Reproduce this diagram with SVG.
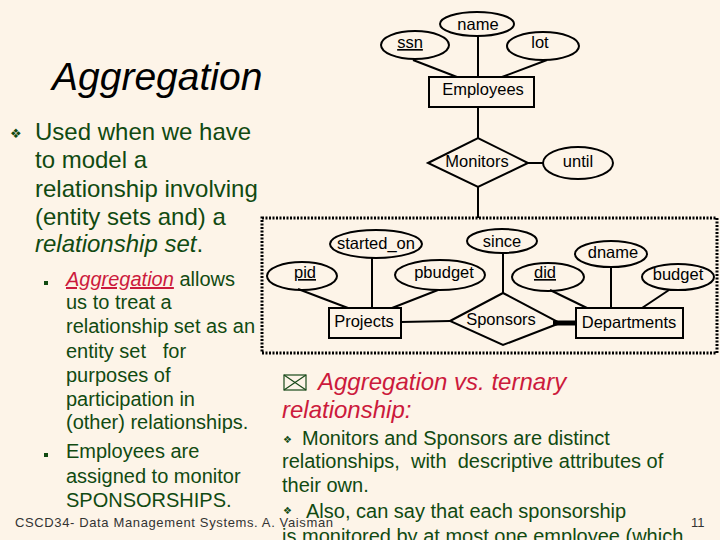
<svg xmlns="http://www.w3.org/2000/svg" width="720" height="540" viewBox="0 0 720 540">
<style>
.bg{fill:#fdf4e8}
.sh{fill:none;stroke:#000;stroke-width:2}
.ln{stroke:#000;stroke-width:2;fill:none}
.dl{font-family:"Liberation Sans",Arial,sans-serif;font-size:16.5px;fill:#000;text-anchor:middle}
.u{text-decoration:underline}
.g{font-family:"Liberation Sans",Arial,sans-serif;fill:#114a11}
.r{font-family:"Liberation Sans",Arial,sans-serif;fill:#cc1a3c;font-style:italic}
.b{font-family:"DejaVu Sans",sans-serif;fill:#114a11}
.ft{font-family:"Liberation Sans",Arial,sans-serif;font-size:13px;fill:#333}
</style>
<rect class="bg" x="0" y="0" width="720" height="540"/>

<text x="52" y="90" font-family="Liberation Sans, Arial, sans-serif" font-size="39" font-style="italic" fill="#000">Aggregation</text>

<g id="left-text">
<text class="b" x="10" y="138" font-size="13">❖</text>
<text class="g" font-size="24"><tspan x="35" y="140">Used when we have</tspan><tspan x="35" y="168">to model a</tspan><tspan x="35" y="197">relationship involving</tspan><tspan x="35" y="225">(entity sets and) a</tspan><tspan x="35" y="252" font-style="italic">relationship set</tspan><tspan>.</tspan></text>
<rect x="44" y="281" width="4" height="4" fill="#114a11"/>
<text class="g" font-size="20"><tspan x="66" y="286" class="r u">Aggregation</tspan><tspan> allows</tspan><tspan x="66" y="309">us to treat a</tspan><tspan x="66" y="333">relationship set as an</tspan><tspan x="66" y="358" xml:space="preserve">entity set   for</tspan><tspan x="66" y="382">purposes of</tspan><tspan x="66" y="406">participation in</tspan><tspan x="66" y="429">(other) relationships.</tspan></text>
<rect x="44" y="453" width="4" height="4" fill="#114a11"/>
<text class="g" font-size="20"><tspan x="66" y="458">Employees are</tspan><tspan x="66" y="483">assigned to monitor</tspan><tspan x="66" y="507">SPONSORSHIPS.</tspan></text>
</g>

<g id="right-text">
<g id="envelope" stroke="#1a4a1a" stroke-width="1.2" fill="none">
<rect x="284" y="375" width="22" height="15"/>
<path d="M284 375 L306 390 M306 375 L284 390"/>
</g>
<text class="r" font-size="24"><tspan x="318" y="390">Aggregation vs. ternary</tspan><tspan x="282" y="418">relationship</tspan><tspan>:</tspan></text>
<text class="b" x="283" y="443" font-size="10">❖</text>
<text class="g" font-size="20"><tspan x="302" y="445">Monitors and Sponsors are distinct</tspan><tspan x="282" y="468" xml:space="preserve">relationships,  with  descriptive attributes of</tspan><tspan x="282" y="492">their own.</tspan><tspan x="306" y="518">Also, can say that each sponsorship</tspan><tspan x="282" y="543">is monitored by at most one employee (which</tspan></text>
<text class="b" x="283" y="514" font-size="10">❖</text>
</g>

<g id="connectors">
<line class="ln" x1="478" y1="36" x2="478" y2="77"/>
<line class="ln" x1="413" y1="60" x2="457" y2="77"/>
<line class="ln" x1="547" y1="60" x2="502" y2="77"/>
<line class="ln" x1="478" y1="107" x2="478" y2="138"/>
<line class="ln" x1="528" y1="163" x2="543" y2="163"/>
<line class="ln" x1="478" y1="187" x2="478" y2="218"/>
<line class="ln" x1="298" y1="289" x2="348" y2="308"/>
<line class="ln" x1="372" y1="258" x2="372" y2="308"/>
<line class="ln" x1="438" y1="290" x2="392" y2="308"/>
<line class="ln" x1="503" y1="253" x2="503" y2="293"/>
<line class="ln" x1="550" y1="290" x2="587" y2="308"/>
<line class="ln" x1="611" y1="267" x2="611" y2="308"/>
<line class="ln" x1="669" y1="290" x2="642" y2="308"/>
<line class="ln" x1="401" y1="322" x2="450" y2="321"/>
<line x1="553" y1="323" x2="577" y2="323" stroke="#000" stroke-width="5"/>
</g>

<rect id="aggregate" x="262" y="218" width="455" height="135" fill="none" stroke="#000" stroke-width="3" stroke-dasharray="2 1.5"/>

<g id="ssn"><ellipse class="sh" cx="415" cy="45" rx="34" ry="14"/><text class="dl u" x="410" y="48">ssn</text></g>
<g id="name"><ellipse class="sh" cx="477" cy="24" rx="37" ry="12"/><text class="dl" x="478" y="30">name</text></g>
<g id="lot"><ellipse class="sh" cx="543" cy="46" rx="36" ry="14"/><text class="dl" x="540" y="48">lot</text></g>
<g id="employees"><rect class="sh" x="429" y="77" width="105" height="30"/><text class="dl" x="483" y="95">Employees</text></g>
<g id="monitors"><polygon class="sh" points="428,163 478,138 528,163 478,187"/><text class="dl" x="477" y="167">Monitors</text></g>
<g id="until"><ellipse class="sh" cx="578" cy="163" rx="35" ry="16"/><text class="dl" x="578" y="167">until</text></g>
<g id="started_on"><ellipse class="sh" cx="376" cy="244" rx="46" ry="14"/><text class="dl" x="376" y="249">started_on</text></g>
<g id="since"><ellipse class="sh" cx="502" cy="241" rx="35" ry="12"/><text class="dl" x="502" y="247">since</text></g>
<g id="pid"><ellipse class="sh" cx="302" cy="276" rx="35" ry="14"/><text class="dl u" x="305" y="278">pid</text></g>
<g id="pbudget"><ellipse class="sh" cx="440" cy="275" rx="45" ry="15"/><text class="dl" x="444" y="278">pbudget</text></g>
<g id="did"><ellipse class="sh" cx="548" cy="277" rx="36" ry="14"/><text class="dl u" x="545" y="278">did</text></g>
<g id="dname"><ellipse class="sh" cx="611" cy="254" rx="36" ry="13"/><text class="dl" x="613" y="258">dname</text></g>
<g id="budget"><ellipse class="sh" cx="678" cy="277" rx="36" ry="13"/><text class="dl" x="678" y="280">budget</text></g>
<g id="projects"><rect class="sh" x="329" y="308" width="72" height="30"/><text class="dl" x="364" y="327">Projects</text></g>
<g id="sponsors"><polygon class="sh" points="450,321 503,293 560,323 503,345"/><text class="dl" x="501" y="325">Sponsors</text></g>
<g id="departments"><rect class="sh" x="576" y="308" width="107" height="30"/><text class="dl" x="629" y="328">Departments</text></g>

<g id="footer">
<text class="ft" x="15" y="527" textLength="318" lengthAdjust="spacing">CSCD34- Data Management Systems. A. Vaisman</text>
<text class="ft" x="691" y="527">11</text>
</g>
</svg>
